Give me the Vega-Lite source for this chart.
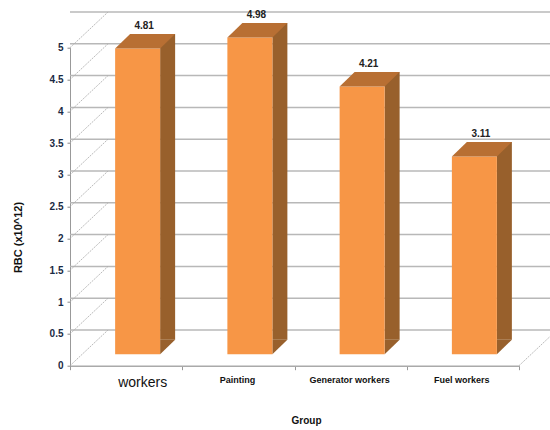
{
  "$schema": "https://vega.github.io/schema/vega-lite/v6.json",
  "width": 449,
  "height": 318,
  "autosize": {"type": "none"},
  "padding": {"left": 70, "top": 47.7, "right": 31, "bottom": 64.3},
  "background": "white",
  "config": {
    "view": {"stroke": null},
    "axisX": {"labelAngle": 0, "labelAlign": "center", "labelOverlap": false, "labelLimit": 200, "tickBand": "extent", "grid": false},
    "axisY": {"tickCount": 10, "format": ".1~f", "labelOverlap": false, "grid": false}
  },
  "datasets": {
    "groups": [
      {"group": "workers", "rbc": 4.81},
      {"group": "Painting", "rbc": 4.98},
      {"group": "Generator workers", "rbc": 4.21},
      {"group": "Fuel workers", "rbc": 3.11}
    ],
    "levels": [
      {"level": 0}, {"level": 0.5}, {"level": 1}, {"level": 1.5}, {"level": 2}, {"level": 2.5},
      {"level": 3}, {"level": 3.5}, {"level": 4}, {"level": 4.5}, {"level": 5}
    ]
  },
  "data": {"name": "groups"},
  "layer": [
    {
      "description": "Back wall gridlines, pushed into the depth of the box",
      "data": {"name": "levels"},
      "mark": {"type": "rule", "color": "#b8b8b8", "strokeWidth": 1.5, "xOffset": 38, "x2Offset": 38, "yOffset": -35.7},
      "encoding": {"y": {"field": "level", "type": "quantitative", "scale": {"domain": [0, 5]}}}
    },
    {
      "description": "Side wall diagonals running from the front axis to the back wall",
      "data": {"name": "levels"},
      "mark": {"type": "rule", "color": "#a8a8a8", "strokeWidth": 0.8, "strokeDash": [2, 1], "x2Offset": -18.1, "y2Offset": -35.7},
      "encoding": {
        "x": {"datum": "workers", "type": "nominal", "bandPosition": 0, "scale": {"domain": ["workers", "Painting", "Generator workers", "Fuel workers"]}},
        "x2": {"datum": "workers"},
        "y": {"field": "level", "type": "quantitative"},
        "y2": {"field": "level"}
      }
    },
    {
      "description": "Floor edge on the right",
      "data": {"values": [{"level": 0}]},
      "mark": {"type": "rule", "color": "#a8a8a8", "strokeWidth": 0.8, "strokeDash": [2, 1], "x2Offset": 94.1, "y2Offset": -35.7},
      "encoding": {
        "x": {"datum": "Fuel workers", "type": "nominal", "bandPosition": 1},
        "x2": {"datum": "Fuel workers"},
        "y": {"field": "level", "type": "quantitative"},
        "y2": {"field": "level"}
      }
    },
    {
      "description": "Shaded right side of each column",
      "mark": {"type": "bar", "color": "#98602c", "width": 15, "xOffset": 41.5, "yOffset": -25.9, "y2Offset": -25.9},
      "encoding": {
        "x": {"field": "group", "type": "nominal"},
        "y": {"field": "rbc", "type": "quantitative"},
        "y2": {"datum": 0}
      }
    },
    {
      "description": "Lower wedge that closes the side of each column",
      "mark": {"type": "point", "filled": true, "opacity": 1, "color": "#98602c", "size": 4, "strokeWidth": 0, "xOffset": 34, "yOffset": -11.4, "shape": "M0,0L15,-14.5L0,-14.5Z"},
      "encoding": {
        "x": {"field": "group", "type": "nominal"},
        "y": {"datum": 0, "type": "quantitative"}
      }
    },
    {
      "description": "Front face of each column",
      "mark": {"type": "bar", "color": "#f79646", "width": 45, "xOffset": 11.5, "yOffset": -11.4, "y2Offset": -11.4},
      "encoding": {
        "x": {"field": "group", "type": "nominal"},
        "y": {"field": "rbc", "type": "quantitative"},
        "y2": {"datum": 0}
      }
    },
    {
      "description": "Lit top of each column",
      "mark": {"type": "point", "filled": true, "opacity": 1, "color": "#b86f33", "size": 4, "strokeWidth": 0, "xOffset": 11.5, "yOffset": -11.4, "shape": "M-22.5,0L22.5,0L37.5,-14.5L-7.5,-14.5Z"},
      "encoding": {
        "x": {"field": "group", "type": "nominal"},
        "y": {"field": "rbc", "type": "quantitative"}
      }
    },
    {
      "description": "Value labels above the columns",
      "mark": {"type": "text", "font": "Liberation Sans", "fontSize": 10, "fontWeight": "bold", "color": "#222222", "xOffset": 18, "yOffset": -34, "baseline": "middle"},
      "encoding": {
        "x": {
          "field": "group", "type": "nominal",
          "scale": {"paddingInner": 0, "paddingOuter": 0},
          "axis": {
            "title": "Group",
            "titleFont": "Liberation Sans",
            "titleFontSize": 10,
            "titleFontWeight": "bold",
            "titleColor": "#111111",
            "titleX": 236,
            "titleY": 54.3,
            "titleBaseline": "middle",
            "labelFont": "Liberation Sans",
            "labelFontWeight": {"condition": {"test": "datum.value == 'workers'", "value": "normal"}, "value": "bold"},
            "labelFontSize": {"condition": {"test": "datum.value == 'workers'", "value": 14}, "value": 9},
            "labelOffset": {"condition": {"test": "datum.value == 'workers'", "value": 16}, "value": -1.5},
            "labelColor": "#111111",
            "labelPadding": 6,
            "tickSize": 4,
            "tickColor": "#999999",
            "domainColor": "#aaaaaa",
            "domainWidth": 1.5
          }
        },
        "y": {
          "field": "rbc", "type": "quantitative",
          "scale": {"domain": [0, 5], "nice": false},
          "axis": {
            "title": "RBC (x10^12)",
            "titleFont": "Liberation Sans",
            "titleFontSize": 11,
            "titleFontWeight": "bold",
            "titleColor": "#111111",
            "titleX": -52,
            "titleY": 189.3,
            "titleBaseline": "middle",
            "labelFont": "Liberation Sans",
            "labelFontSize": 10,
            "labelFontWeight": "bold",
            "labelColor": "#1a2a44",
            "labelPadding": 4,
            "tickSize": 3,
            "tickColor": "#888888",
            "domainColor": "#999999",
            "domainWidth": 1
          }
        },
        "text": {"field": "rbc", "type": "quantitative", "format": ".2f"}
      }
    }
  ]
}
